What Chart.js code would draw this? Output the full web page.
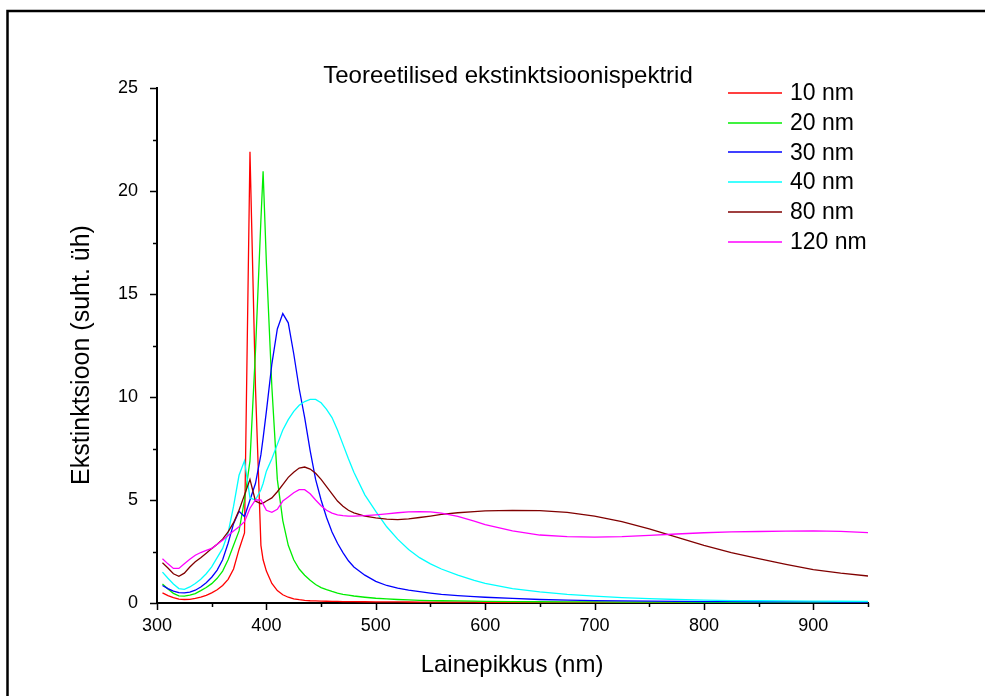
<!DOCTYPE html>
<html>
<head>
<meta charset="utf-8">
<script src="https://cdn.jsdelivr.net/npm/chart.js@4.4.1/dist/chart.umd.min.js"></script>
<style>
  html, body { margin: 0; padding: 0; background: #fff; }
  #wrap { width: 985px; height: 696px; position: relative; }
</style>
</head>
<body>
<div id="wrap"><canvas id="chart"></canvas></div>
<script>
// wavelengths (nm), shared by every curve
const wavelengths = [305,310,315,320,325,330,335,340,345,350,
  355,360,365,370,375,380,385,390,395,397,
  400,405,410,415,420,425,430,435,440,445,
  450,455,460,465,470,475,480,490,500,510,
  520,530,540,550,560,575,590,600,625,650,
  675,700,725,750,775,800,825,850,875,900,
  925,950];

const nm10 = [0.49,0.36,0.26,0.19,0.17,0.18,0.22,0.28,0.37,0.49,
  0.64,0.85,1.15,1.65,2.6,3.4,21.9,10.5,2.8,2.1,
  1.55,0.95,0.6,0.4,0.28,0.2,0.16,0.13,0.11,0.1,
  0.09,0.085,0.08,0.075,0.07,0.068,0.065,0.06,0.057,0.054,
  0.05,0.048,0.046,0.044,0.042,0.04,0.038,0.036,0.033,0.03,
  0.028,0.026,0.024,0.022,0.02,0.019,0.018,0.017,0.016,0.015,
  0.014,0.013];

const nm20 = [0.92,0.68,0.47,0.35,0.33,0.38,0.46,0.6,0.75,0.94,
  1.2,1.55,2.1,2.8,3.5,5.0,6.9,12.2,18.6,20.96,
  16.5,10.5,6.0,4.0,2.8,2.1,1.65,1.35,1.1,0.9,
  0.75,0.65,0.56,0.48,0.42,0.38,0.34,0.28,0.23,0.2,
  0.17,0.15,0.13,0.12,0.11,0.1,0.09,0.08,0.07,0.06,
  0.055,0.05,0.045,0.04,0.038,0.035,0.033,0.031,0.03,0.028,
  0.027,0.026];

const nm30 = [0.85,0.7,0.58,0.5,0.49,0.53,0.62,0.78,0.98,1.25,
  1.6,2.1,2.9,3.85,4.45,4.2,5.0,5.8,7.2,8.0,
  9.3,11.6,13.3,14.05,13.6,12.1,10.4,9.0,7.4,6.0,
  5.0,4.15,3.45,2.9,2.45,2.05,1.75,1.35,1.05,0.85,
  0.72,0.62,0.55,0.48,0.42,0.36,0.31,0.28,0.22,0.17,
  0.14,0.12,0.1,0.09,0.08,0.07,0.065,0.06,0.055,0.05,
  0.048,0.045];

const nm40 = [1.5,1.2,0.92,0.7,0.66,0.78,0.95,1.15,1.42,1.75,
  2.2,2.65,3.4,4.7,6.2,6.9,5.1,5.0,5.5,5.8,
  6.4,7.0,7.7,8.4,8.9,9.3,9.6,9.78,9.88,9.88,
  9.72,9.4,9.0,8.4,7.7,7.0,6.35,5.25,4.45,3.7,
  3.1,2.6,2.2,1.9,1.65,1.35,1.1,0.95,0.7,0.54,
  0.42,0.33,0.26,0.21,0.17,0.14,0.12,0.11,0.1,0.09,
  0.085,0.08];

const nm80 = [1.95,1.7,1.42,1.3,1.45,1.75,2.0,2.2,2.42,2.64,
  2.85,3.1,3.45,3.9,4.5,5.25,6.0,4.95,4.82,4.85,
  4.95,5.1,5.4,5.75,6.1,6.35,6.55,6.6,6.5,6.3,
  6.0,5.65,5.3,4.95,4.7,4.5,4.38,4.22,4.13,4.07,
  4.05,4.08,4.15,4.22,4.3,4.38,4.44,4.47,4.5,4.48,
  4.4,4.22,3.95,3.6,3.2,2.8,2.45,2.15,1.88,1.62,
  1.45,1.31];

const nm120 = [2.15,1.9,1.68,1.68,1.9,2.12,2.32,2.45,2.55,2.65,
  2.85,3.05,3.28,3.5,3.7,3.95,4.6,5.0,5.0,4.8,
  4.5,4.4,4.55,4.95,5.15,5.35,5.5,5.5,5.3,5.0,
  4.72,4.5,4.36,4.28,4.24,4.22,4.22,4.24,4.28,4.33,
  4.38,4.42,4.44,4.42,4.36,4.2,3.98,3.8,3.5,3.3,
  3.22,3.2,3.22,3.28,3.35,3.41,3.45,3.47,3.49,3.5,
  3.48,3.42];

const seriesNames = ['10 nm', '20 nm', '30 nm', '40 nm', '80 nm', '120 nm'];
const seriesValues = [nm10, nm20, nm30, nm40, nm80, nm120];
const seriesColors = ['#ff0000', '#00ee00', '#0000ff', '#00ffff', '#800000', '#ff00ff'];

const xMin = 300, xMax = 950, xMajor = 100, xMinor = 50;
const yMin = 0, yMax = 25, yMajor = 5, yMinor = 2.5;

const chartTitle = 'Teoreetilised ekstinktsioonispektrid';
const xTitle = 'Lainepikkus (nm)';
const yTitle = 'Ekstinktsioon (suht. üh)';

const FONT = "'Liberation Sans', Arial, sans-serif";

// frame, tick marks, titles and legend drawn on top of the chart
const decor = {
  id: 'decor',
  afterDraw(chart) {
    const ctx = chart.ctx;
    const x = chart.scales.x, y = chart.scales.y;
    ctx.save();

    ctx.strokeStyle = '#000';
    ctx.lineWidth = 2.5;
    ctx.strokeRect(7.5, 11, 1400, 1400);

    // tick marks
    ctx.lineWidth = 1.5;
    ctx.beginPath();
    for (let v = xMin; v <= xMax; v += xMinor) {
      const px = Math.round(x.getPixelForValue(v)) + 0.5;
      const len = v % xMajor === 0 ? 7 : 4;
      ctx.moveTo(px, y.bottom);
      ctx.lineTo(px, y.bottom + len);
    }
    for (let v = yMin; v <= yMax; v += yMinor) {
      const py = Math.round(y.getPixelForValue(v)) + 0.5;
      const len = v % yMajor === 0 ? 7 : 4;
      ctx.moveTo(x.left, py);
      ctx.lineTo(x.left - len, py);
    }
    ctx.stroke();

    ctx.fillStyle = '#000';
    ctx.textBaseline = 'middle';

    // chart title
    ctx.font = '24px ' + FONT;
    ctx.textAlign = 'center';
    ctx.fillText(chartTitle, 508, 76);

    // axis titles
    ctx.font = '24px ' + FONT;
    ctx.fillText(xTitle, 512, 665);
    ctx.save();
    ctx.translate(82, 355);
    ctx.rotate(-Math.PI / 2);
    ctx.font = '25px ' + FONT;
    ctx.fillText(yTitle, 0, 0);
    ctx.restore();

    // legend
    ctx.font = '23px ' + FONT;
    ctx.textAlign = 'left';
    chart.data.datasets.forEach((ds, i) => {
      const ly = 93 + i * 29.7;
      ctx.strokeStyle = ds.borderColor;
      ctx.lineWidth = 1.6;
      ctx.beginPath();
      ctx.moveTo(728, Math.round(ly));
      ctx.lineTo(782, Math.round(ly));
      ctx.stroke();
      ctx.fillStyle = '#000';
      ctx.fillText(ds.label, 790, ly + 1);
    });

    ctx.restore();
  }
};

const datasets = seriesNames.map((name, i) => ({
  label: name,
  data: wavelengths.map((w, j) => ({ x: w, y: seriesValues[i][j] })),
  borderColor: seriesColors[i],
  backgroundColor: seriesColors[i],
  borderWidth: 1.3,
  pointRadius: 0,
  tension: 0,
  fill: false,
  order: seriesNames.length - i
}));

new Chart(document.getElementById('chart'), {
  type: 'line',
  data: { datasets: datasets },
  options: {
    responsive: true,
    maintainAspectRatio: false,
    animation: false,
    layout: { padding: { left: 10, top: 88, right: 117, bottom: 0 } },
    plugins: {
      legend: { display: false },
      title: { display: false },
      tooltip: { enabled: false }
    },
    scales: {
      x: {
        type: 'linear',
        min: xMin,
        max: xMax,
        grid: { display: false },
        border: { display: true, color: '#000', width: 2 },
        ticks: {
          stepSize: xMajor,
          includeBounds: false,
          color: '#000',
          padding: 4,
          maxRotation: 0,
          font: { family: FONT, size: 18 }
        },
        afterFit(scale) { scale.height = 93; }
      },
      y: {
        type: 'linear',
        min: yMin,
        max: yMax,
        grid: { display: false },
        border: { display: true, color: '#000', width: 2 },
        ticks: {
          stepSize: yMajor,
          color: '#000',
          padding: 11,
          font: { family: FONT, size: 18 }
        },
        afterFit(scale) { scale.width = 147; }
      }
    }
  },
  plugins: [decor]
});
</script>
</body>
</html>
